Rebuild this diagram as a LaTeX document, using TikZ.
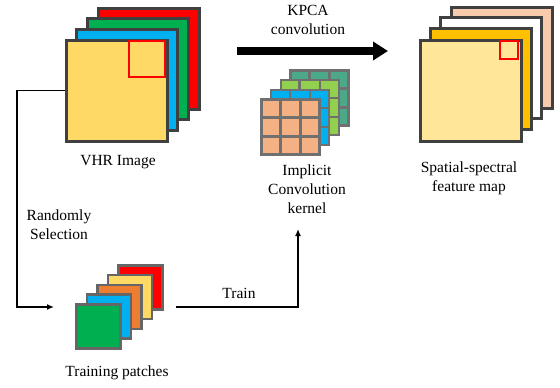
\documentclass[tikz,border=0pt]{standalone}
\usepackage{fontspec}
\setmainfont{Liberation Serif}
\usetikzlibrary{arrows.meta,calc}
\definecolor{cyellow}{HTML}{FFD966}
\definecolor{cblue}{HTML}{00B0F0}
\definecolor{cgreen}{HTML}{00B050}
\definecolor{cred}{HTML}{FF0000}
\definecolor{corange}{HTML}{ED7D31}
\definecolor{cpaleyellow}{HTML}{FFE699}
\definecolor{cgold}{HTML}{FFC000}
\definecolor{cpeach}{HTML}{F8CBAD}
\definecolor{ksalmon}{HTML}{F4B183}
\definecolor{klime}{HTML}{92D050}
\definecolor{kteal}{HTML}{4BA888}
\definecolor{darkedge}{HTML}{404040}
\definecolor{midedge}{HTML}{666666}
\definecolor{gridedge}{HTML}{707070}
\begin{document}
\begin{tikzpicture}[x=1pt,y=-1pt,
  bigsq/.style={draw=darkedge,line width=3pt,minimum width=101pt,minimum height=101pt,inner sep=0pt,anchor=north west},
  patchsq/.style={draw=midedge,line width=2.5pt,minimum width=44pt,minimum height=44pt,inner sep=0pt,anchor=north west},
  kernsq/.style={draw=gridedge,line width=2.5pt,minimum width=58pt,minimum height=55pt,inner sep=0pt,anchor=north west},
  gridln/.style={draw=gridedge,line width=2.5pt},
  redsq/.style={draw=cred,line width=2pt,inner sep=0pt,anchor=north west},
  lbl/.style={font=\fontsize{15.5}{19}\selectfont,align=center,inner sep=0pt},
  conn/.style={line width=1.5pt,-{Latex[length=7pt,width=6pt]}}]
\useasboundingbox (0,0) rectangle (560,388);

% VHR image stack
\node[bigsq,fill=cred]    (v4) at (96.5,6.5) {};
\node[bigsq,fill=cgreen]  (v3) at (85.8,17.2) {};
\node[bigsq,fill=cblue]   (v2) at (75.2,27.8) {};
\node[bigsq,fill=cyellow] (v1) at (64.5,38.5) {};
\node[redsq,minimum width=36pt,minimum height=36pt] (vwin) at (128,40) {};
\node[lbl] (vlbl) at (118,162) {VHR Image};

% Feature map stack
\node[bigsq,fill=cpeach]      (f4) at (449.5,5.5) {};
\node[bigsq,fill=white]       (f3) at (439.2,16) {};
\node[bigsq,fill=cgold]       (f2) at (428.8,26.5) {};
\node[bigsq,fill=cpaleyellow] (f1) at (418.5,38.5) {};
\node[redsq,minimum width=18pt,minimum height=18pt] (fwin) at (499,40) {};
\node[lbl] (flbl) at (469,178) {Spatial-spectral\\feature map};

% KPCA arrow
\coordinate (kstart) at (237,51);
\coordinate (kend) at (388,51);
\draw[line width=8pt,-{Triangle[length=15pt,width=18pt]}] (kstart) -- (kend);
\node[lbl] (klbl) at (308,20) {KPCA\\convolution};

% Implicit convolution kernel
\foreach \nm/\xx/\yy/\cc in {k4/289.2/69.2/kteal, k3/279.5/78.9/klime, k2/269.8/88.6/cblue, k1/260.2/98.2/ksalmon}{
  \node[kernsq,fill=\cc] (\nm) at (\xx,\yy) {};
  \draw[gridln] ($(\nm.north west)!1/3!(\nm.north east)$) -- ($(\nm.south west)!1/3!(\nm.south east)$);
  \draw[gridln] ($(\nm.north west)!2/3!(\nm.north east)$) -- ($(\nm.south west)!2/3!(\nm.south east)$);
  \draw[gridln] ($(\nm.north west)!1/3!(\nm.south west)$) -- ($(\nm.north east)!1/3!(\nm.south east)$);
  \draw[gridln] ($(\nm.north west)!2/3!(\nm.south west)$) -- ($(\nm.north east)!2/3!(\nm.south east)$);
}
\node[lbl] (kernlbl) at (307,189) {Implicit\\Convolution\\kernel};

% Training patches
\node[patchsq,fill=cred]    (p5) at (117.2,264) {};
\node[patchsq,fill=cyellow] (p4) at (106.8,273.8) {};
\node[patchsq,fill=corange] (p3) at (96.2,283.6) {};
\node[patchsq,fill=cblue]   (p2) at (85.8,293.4) {};
\node[patchsq,fill=cgreen]  (p1) at (75.2,303.2) {};
\node[lbl] (plbl) at (117,373) {Training patches};

% Randomly selection connector
\coordinate (selcorner) at (17,307);
\coordinate (selend) at (54,307);
\draw[conn] (v1.west) -| (selcorner) -- (selend);
\node[lbl] (rlbl) at (59,225) {Randomly\\Selection};

% Train connector
\coordinate (trainstart) at (176,307);
\coordinate (traincorner) at (298,307);
\coordinate (trainend) at (298,229);
\draw[conn] (trainstart) -- (traincorner) -- (trainend);
\node[lbl] (tlbl) at (239,293) {Train};
\end{tikzpicture}
\end{document}
